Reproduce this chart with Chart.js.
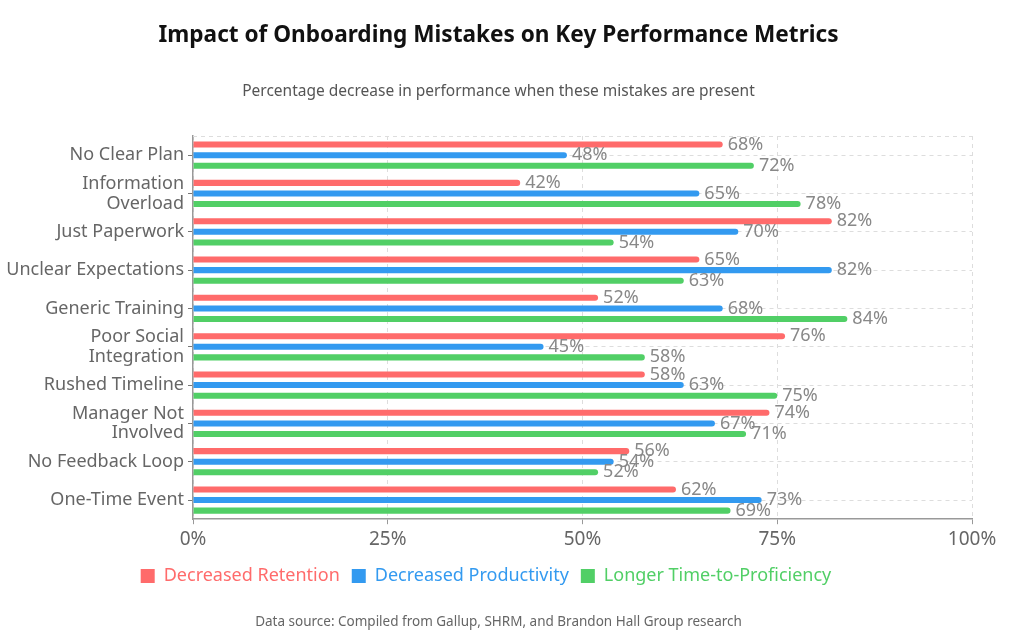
<!DOCTYPE html>
<html><head><meta charset="utf-8">
<script src="https://cdn.jsdelivr.net/npm/chart.js@4.4.0/dist/chart.umd.min.js"></script>
<style>
html,body{margin:0;padding:0;background:#fff;}
#wrap{position:relative;width:1018px;height:638px;overflow:hidden;font-family:'Noto Sans',sans-serif;}
#wrap canvas{position:absolute;left:0;top:0;}
.t{position:absolute;left:0;width:997px;text-align:center;white-space:nowrap;}
#title{top:21px;line-height:26px;font-size:22.6px;font-weight:bold;color:#111;}
#subtitle{top:80px;line-height:20px;font-size:15.5px;color:#555;}
#footer{top:611px;line-height:20px;font-size:13.5px;color:#666;}
</style></head>
<body>
<div id="wrap">
<canvas id="c" width="1018" height="638"></canvas>
<div class="t" id="title">Impact of Onboarding Mistakes on Key Performance Metrics</div>
<div class="t" id="subtitle">Percentage decrease in performance when these mistakes are present</div>
<div class="t" id="footer">Data source: Compiled from Gallup, SHRM, and Brandon Hall Group research</div>
</div>
<script>
const categories = ["No Clear Plan", ["Information","Overload"], "Just Paperwork", "Unclear Expectations", "Generic Training", ["Poor Social","Integration"], "Rushed Timeline", ["Manager Not","Involved"], "No Feedback Loop", "One-Time Event"];
const seriesNames = ["Decreased Retention", "Decreased Productivity", "Longer Time-to-Proficiency"];
const retention    = [68, 42, 82, 65, 52, 76, 58, 74, 56, 62];
const productivity = [48, 65, 70, 82, 68, 45, 63, 67, 54, 73];
const proficiency  = [72, 78, 54, 63, 84, 58, 75, 71, 52, 69];
const seriesColors = ["#ff6b6b", "#339af0", "#51cf66"];
const xTickStep = 25;

Chart.defaults.font.family = "'Noto Sans', sans-serif";

const valueLabels = {
  id: 'valueLabels',
  afterDatasetsDraw(chart) {
    const ctx = chart.ctx;
    ctx.save();
    ctx.font = "18px 'Noto Sans', sans-serif";
    ctx.fillStyle = '#888';
    ctx.textBaseline = 'middle';
    ctx.textAlign = 'left';
    chart.data.datasets.forEach((ds, i) => {
      chart.getDatasetMeta(i).data.forEach((bar, j) => {
        ctx.fillText(ds.data[j] + '%', bar.x + 5, bar.y);
      });
    });
    ctx.restore();
  }
};
const topLine = {
  id: 'topLine',
  beforeDatasetsDraw(chart) {
    const {ctx, chartArea: a} = chart;
    ctx.save();
    ctx.strokeStyle = '#ddd';
    ctx.lineWidth = 1;
    ctx.setLineDash([4, 4]);
    ctx.beginPath();
    ctx.moveTo(a.left, Math.round(a.top) + 0.5);
    ctx.lineTo(a.right, Math.round(a.top) + 0.5);
    ctx.stroke();
    ctx.restore();
  }
};

const seriesData = [retention, productivity, proficiency];
new Chart(document.getElementById('c'), {
  type: 'bar',
  data: {
    labels: categories,
    datasets: seriesData.map((d, i) => ({
      label: seriesNames[i],
      data: d,
      backgroundColor: seriesColors[i],
      borderWidth: 0,
      borderRadius: 3,
      barPercentage: 0.57,
      categoryPercentage: 0.83
    }))
  },
  options: {
    indexAxis: 'y',
    responsive: false,
    animation: false,
    layout: { padding: { top: 136, right: 46, left: 0, bottom: 43 } },
    scales: {
      x: {
        min: 0, max: 100,
        ticks: { stepSize: xTickStep, callback: v => v + '%', color: '#666', font: { size: 19 }, padding: 4 },
        grid: { color: '#ddd', tickColor: '#999', tickLength: 5, tickBorderDash: [] },
        border: { color: '#999', width: 1.5, dash: [4, 4] }
      },
      y: {
        grid: { offset: false, color: '#ddd', tickColor: '#777', tickLength: 5, tickBorderDash: [] },
        border: { color: '#999', width: 1.5, dash: [4, 4] },
        ticks: { autoSkip: false, color: '#666', font: { size: 18, lineHeight: 1.1 }, padding: 4 },
        afterFit(s) { s.width = 193; }
      }
    },
    plugins: {
      tooltip: { enabled: false },
      legend: {
        position: 'bottom',
        labels: {
          boxWidth: 14, boxHeight: 14, padding: 12,
          font: { size: 18 },
          generateLabels(chart) {
            const items = Chart.defaults.plugins.legend.labels.generateLabels(chart);
            items.forEach(it => { it.fontColor = it.fillStyle; it.lineWidth = 0; });
            return items;
          }
        }
      }
    }
  },
  plugins: [topLine, valueLabels]
});
</script>
</body></html>
